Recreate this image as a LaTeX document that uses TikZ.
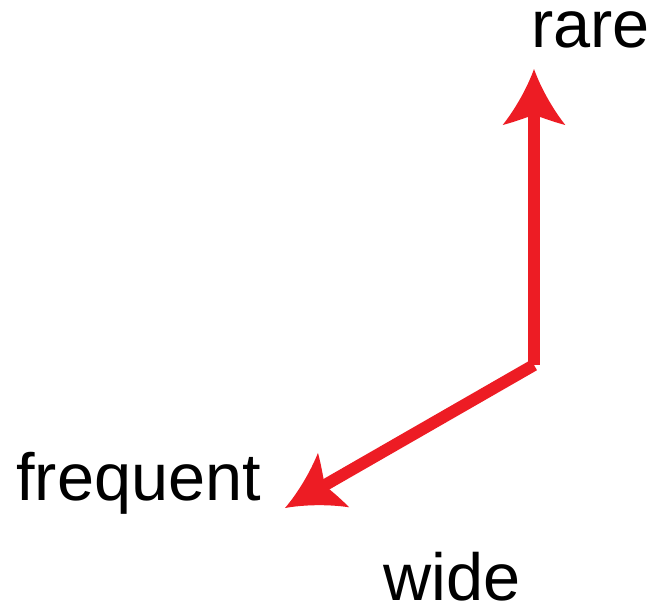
\documentclass[tikz,border=0pt]{standalone}
\usepackage{fontspec}
\setmainfont{Liberation Sans}
\usetikzlibrary{arrows.meta,positioning}

% swept-back arrow head with slightly curved flanks
\pgfdeclarearrow{
  name = AxisTip,
  setup code = {
    \pgfarrowssettipend{0pt}
    \pgfarrowssetlineend{-32pt}
    \pgfarrowsupperhullpoint{0pt}{0pt}
    \pgfarrowsupperhullpoint{-42pt}{23.5pt}
  },
  drawing code = {
    \pgfpathmoveto{\pgfqpoint{0pt}{0pt}}
    \pgfpathcurveto{\pgfqpoint{-14pt}{5pt}}{\pgfqpoint{-30pt}{14pt}}{\pgfqpoint{-42pt}{23.5pt}}
    \pgfpathcurveto{\pgfqpoint{-39pt}{12pt}}{\pgfqpoint{-35.5pt}{4pt}}{\pgfqpoint{-34.5pt}{0pt}}
    \pgfpathcurveto{\pgfqpoint{-35.5pt}{-4pt}}{\pgfqpoint{-39pt}{-12pt}}{\pgfqpoint{-42pt}{-23.5pt}}
    \pgfpathcurveto{\pgfqpoint{-30pt}{-14pt}}{\pgfqpoint{-14pt}{-5pt}}{\pgfqpoint{0pt}{0pt}}
    \pgfpathclose
    \pgfusepathqfill
  }
}

\definecolor{axisred}{RGB}{237,28,36}
\tikzset{
    axisarrow/.style={draw=axisred, fill=axisred, line width=9pt, -{AxisTip}},
    axislabel/.style={anchor=base west, inner sep=0pt, font=\fontsize{50}{60}\selectfont}
}

\begin{document}
\begin{tikzpicture}[x=0.75pt,y=-0.75pt]
\useasboundingbox (0,0) rectangle (657,611);

% Axes
\coordinate (origin) at (534,365);
\coordinate (raretip) at (534,69);
\coordinate (freqtip) at (285,508);
\draw[axisarrow] (origin) -- (raretip);
\draw[axisarrow] (origin) -- (freqtip);

% Labels
\node[axislabel] (rare) at (531,47) {rare};
\node[axislabel] (frequent) at (16,500) {frequent};
\node[axislabel] (wide) at (383,600) {wide};

\end{tikzpicture}
\end{document}
